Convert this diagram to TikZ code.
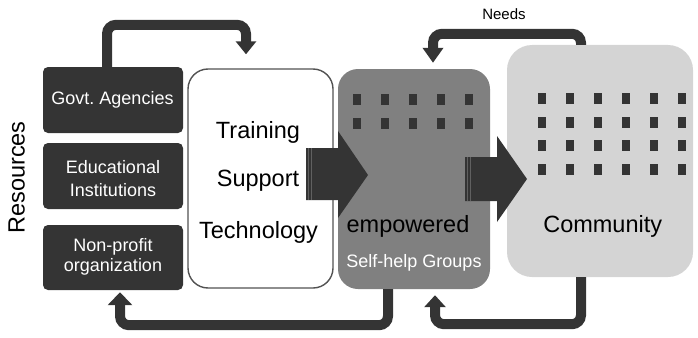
\documentclass[tikz,border=0pt]{standalone}
\usepackage{fontspec}
\setmainfont{Liberation Sans}
\usetikzlibrary{arrows.meta,calc}
\definecolor{dk}{RGB}{52,52,52}
\definecolor{md}{RGB}{128,128,128}
\definecolor{lt}{RGB}{212,212,212}
\frenchspacing
\begin{document}
\begin{tikzpicture}[x=1pt,y=-1pt,
  res/.style={fill=dk, rounded corners=5pt, minimum width=140pt, inner sep=0pt},
  lab/.style={anchor=base, inner sep=0pt},
  fs/.style={font=\fontsize{18}{22}\selectfont},
  fl/.style={font=\fontsize{23.5}{28}\selectfont},
  conn/.style={draw=dk, line width=10pt, rounded corners=9pt},
  blockarrow/.style={fill=dk},
  stripe/.style={draw=gray!75!black, line width=0.9pt},
  dot/.style={fill=dk}]
\useasboundingbox (0,0) rectangle (698,337);
% boxes
\node[res, minimum height=66pt] (govt) at (113,100) {};
\node[res, minimum height=66pt] (edu) at (113,176) {};
\node[res, minimum height=65pt] (npo) at (113,257.5) {};
\node[draw=dk!85, line width=1.4pt, fill=white, rounded corners=20pt, minimum width=145pt, minimum height=219pt, inner sep=0pt] (train) at (260.5,178.5) {};
\node[fill=md, rounded corners=20pt, minimum width=152pt, minimum height=220pt, inner sep=0pt] (shg) at (414,179) {};
\node[fill=lt, rounded corners=25pt, minimum width=186pt, minimum height=232pt, inner sep=0pt] (comm) at (600,161) {};
% dots
\foreach \i in {0,...,4}{\foreach \j in {0,1}{
  \fill[dot] ({356.7+28*\i-4},{99.3+24*\j-5.5}) rectangle ++(8,11);}}
\foreach \i in {0,...,5}{\foreach \j in {0,...,3}{
  \fill[dot] ({541.7+28*\i-4},{98.3+23.7*\j-5.5}) rectangle ++(8,11);}}
% loop connectors
\draw[conn, -{Triangle[length=13pt,width=20pt]}, shorten >=14pt] ([xshift=-6pt]govt.north) -- ++(0,-42) -| ([xshift=-14.5pt]train.north);
\draw[conn, -{Triangle[length=15pt,width=20pt]}, shorten >=6pt] ([xshift=-19pt]comm.north) -- ++(0,-11) -| ([xshift=19pt]shg.north);
\draw[conn, -{Triangle[length=13pt,width=24pt]}, shorten >=2pt] ([xshift=-26pt]shg.south) -- ++(0,36) -| ([xshift=7pt]npo.south);
\draw[conn, -{Triangle[length=12pt,width=21pt]}, shorten >=6pt] ([xshift=-19pt]comm.south) -- ++(0,47) -| ([xshift=21pt]shg.south);
% block arrows
\fill[blockarrow] (306,148) -- (338,148) -- (338,131) -- (368,175) -- (338,218) -- (338,200) -- (306,200) -- cycle;
\draw[stripe] (308.5,148) -- (308.5,200);
\draw[stripe] (311.5,148) -- (311.5,200);
\fill[blockarrow] (465,157) -- (497,157) -- (497,136) -- (527,179) -- (497,222) -- (497,201) -- (465,201) -- cycle;
\draw[stripe] (467.5,157) -- (467.5,201);
\draw[stripe] (470.5,157) -- (470.5,201);
% texts
\node[lab, fs, white] (tgovt) at (112.5,104) {Govt. Agencies};
\node[lab, fs, white] (tedu1) at (113,173) {Educational};
\node[lab, fs, white] (tedu2) at (113,196) {Institutions};
\node[lab, fs, white] (tnpo1) at (113,251.7) {Non-profit};
\node[lab, fs, white] (tnpo2) at (113,271.7) {organization};
\node[lab, fl] (ttrain) at (258,138) {Training};
\node[lab, fl] (tsupp) at (258,186) {Support};
\node[lab, fl] (ttech) at (258.5,238) {Technology};
\node[lab, fl] (temp) at (408,232) {empowered};
\node[lab, fs, white] (tshg) at (414,267) {Self-help Groups};
\node[lab, fl] (tcomm) at (602.7,232) {Community};
\node[lab, font=\fontsize{15}{18}\selectfont] (needs) at (504,20) {Needs};
\node[inner sep=0pt, rotate=90, fl] (tres) at (16.7,177.5) {Resources};
\end{tikzpicture}
\end{document}
